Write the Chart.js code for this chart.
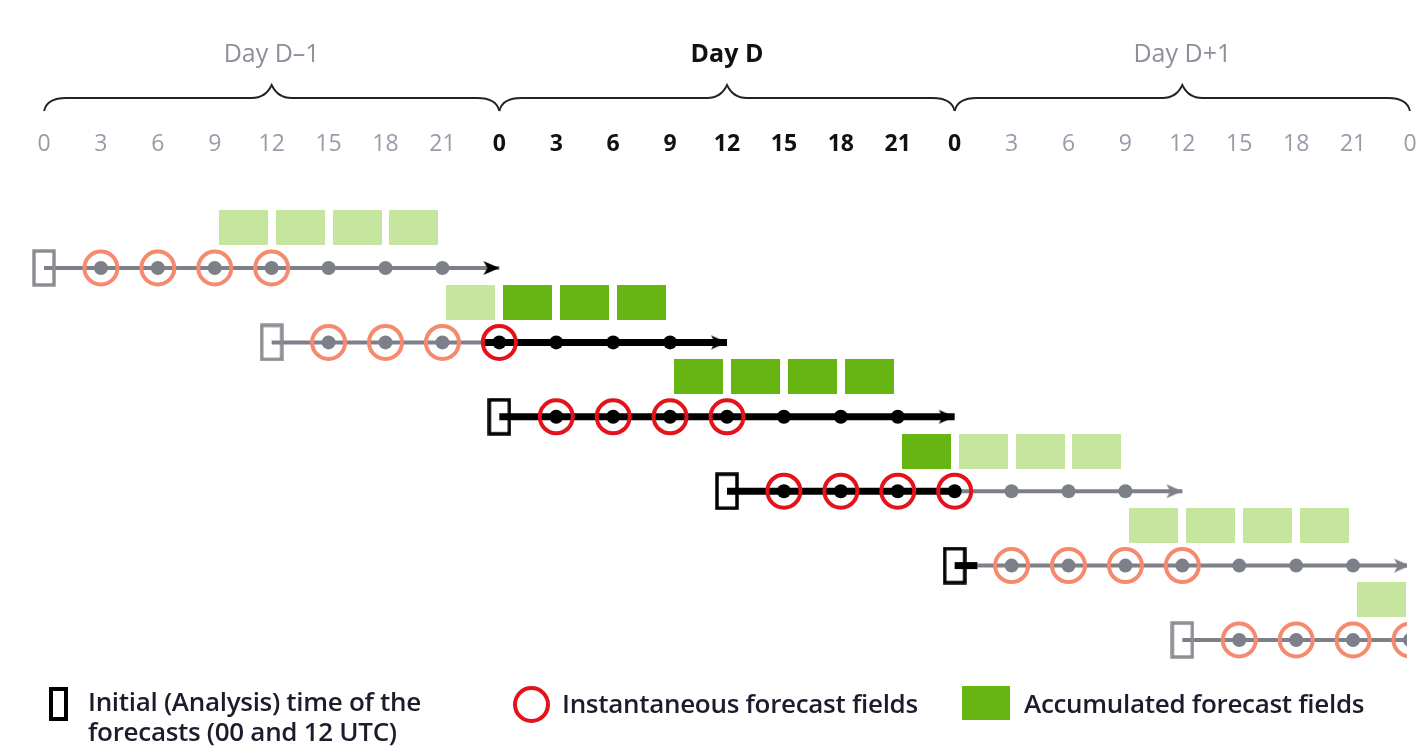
<!DOCTYPE html>
<html>
<head>
<meta charset="utf-8">
<script src="https://cdn.jsdelivr.net/npm/chart.js@4/dist/chart.umd.min.js"></script>
<style>
  html, body { margin: 0; padding: 0; background: #fff; }
  #wrap { position: relative; width: 1421px; height: 755px; overflow: hidden; }
  #chart { position: absolute; left: 0; top: 0; }
  .lg { position: absolute; font-family: "Open Sans", sans-serif; font-size: 26px; font-weight: 600;
        letter-spacing: -0.3px; color: #1c1c2c; line-height: 30px; white-space: nowrap; }
  .ico { position: absolute; box-sizing: border-box; }
</style>
</head>
<body>
<div id="wrap">
  <canvas id="chart" width="1421" height="755"></canvas>
  <div class="ico" style="left:49px;top:687px;width:19px;height:34px;border:4px solid #000;"></div>
  <div class="lg" style="left:88px;top:686px;">Initial (Analysis) time of the<br>forecasts (00 and 12 UTC)</div>
  <div class="ico" style="left:513px;top:686px;width:37px;height:37px;border:4px solid #e3121b;border-radius:50%;"></div>
  <div class="lg" style="left:562px;top:688px;">Instantaneous forecast fields</div>
  <div class="ico" style="left:962px;top:686px;width:48px;height:34px;background:#66b512;"></div>
  <div class="lg" style="left:1024px;top:688px;">Accumulated forecast fields</div>
</div>
<script>
// ------------------- DATOS -------------------

// Hora de inicio de cada pronóstico (horas desde Day D-1 00 UTC)
const forecastStarts = [0, 12, 24, 36, 48, 60];
// Pasos de salida (puntos) y campos instantáneos (círculos)
const outputSteps = [3, 6, 9, 12, 15, 18, 21];
const instantSteps = [3, 6, 9, 12];
// Campos acumulados: inicio de cada ventana de 3 h
const accumSteps = [9, 12, 15, 18];
const accumLength = 3;
const forecastLength = 24;

// Tramos de línea por fila: [desde, hasta, color]
const rowSegments = [
    [[0, 24, 'g']],
    [[12, 23.2, 'g'], [23.2, 36, 'k']],
    [[24, 48, 'k']],
    [[36, 48, 'k'], [48, 60, 'g']],
    [[48, 49.2, 'k'], [49.2, 72, 'g']],
    [[60, 84, 'g']]
];
// Color de la punta de flecha por fila
const arrowColors = ['k', 'k', 'k', 'g', 'g', 'g'];

// Días y etiquetas
const dayLabels = ['Day D\u20131', 'Day D', 'Day D+1'];
const dayStarts = [0, 24, 48];
const dayD = [24, 48];
const hourTicks = [0, 3, 6, 9, 12, 15, 18, 21];

// ------------------- ESTILOS -------------------
const GREY = '#7d8089';
const BLACK = '#000';
const SALMON = '#f58a6e';
const RED = '#e3121b';
const LIGHTGREEN = '#c6e6a0';
const DARKGREEN = '#66b512';
const FONT = '"Open Sans", sans-serif';

const inDayD = h => h >= dayD[0] && h <= dayD[1];
const tickInD = c => !!(c && c.tick && inDayD(c.tick.value));

function makeBox(color) {
    const c = document.createElement('canvas');
    c.width = 24; c.height = 38;
    const g = c.getContext('2d');
    g.strokeStyle = color; g.lineWidth = 3.5;
    g.strokeRect(2, 2, 20, 34);
    return c;
}

function makeArrow(color) {
    const c = document.createElement('canvas');
    c.width = 36; c.height = 18;
    const g = c.getContext('2d');
    g.fillStyle = color;
    g.beginPath();
    g.moveTo(18, 9); g.lineTo(2, 2); g.lineTo(6, 9); g.lineTo(2, 16);
    g.closePath(); g.fill();
    return c;
}

function makeGreen(color) {
    const c = document.createElement('canvas');
    c.width = 49; c.height = 35;
    const g = c.getContext('2d');
    g.fillStyle = color;
    g.fillRect(0, 0, 49, 35);
    return c;
}

const boxImg = { g: makeBox('#8d8e94'), k: makeBox(BLACK) };
const arrowImg = { g: makeArrow(GREY), k: makeArrow(BLACK) };
const greenImg = { light: makeGreen(LIGHTGREEN), dark: makeGreen(DARKGREEN) };

const CLIP = { left: 50, top: 50, bottom: 50, right: -3 };

// ------------------- DATASETS -------------------
const datasets = [];

forecastStarts.forEach((start, i) => {
    const row = i + 1;

    // Campos acumulados (rectángulos verdes)
    accumSteps.forEach(s => {
        const h0 = start + s;
        const dark = inDayD(h0) && inDayD(h0 + accumLength);
        datasets.push({
            data: [{ x: h0 + accumLength / 2, y: row - 0.54 }],
            pointStyle: dark ? greenImg.dark : greenImg.light,
            pointRadius: 10, order: 6, clip: CLIP
        });
    });

    // Líneas del pronóstico
    rowSegments[i].forEach(([a, b, c]) => {
        datasets.push({
            type: 'line', showLine: true,
            data: [{ x: a, y: row }, { x: b, y: row }],
            borderColor: c === 'k' ? BLACK : GREY,
            borderWidth: c === 'k' ? 7 : 4,
            borderCapStyle: 'butt',
            pointRadius: 0, order: 5, clip: CLIP
        });
    });

    // Puntos de salida
    const dots = outputSteps.map(s => start + s);
    datasets.push({
        data: dots.map(h => ({ x: h, y: row })),
        pointRadius: 7, pointBorderWidth: 0,
        pointBackgroundColor: dots.map(h => inDayD(h) ? BLACK : GREY),
        order: 4, clip: CLIP
    });

    // Campos instantáneos (círculos)
    const inst = instantSteps.map(s => start + s);
    datasets.push({
        data: inst.map(h => ({ x: h, y: row })),
        pointRadius: 16.5, pointBorderWidth: 4,
        pointBackgroundColor: 'rgba(0,0,0,0)',
        pointBorderColor: inst.map(h => inDayD(h) ? RED : SALMON),
        order: 3, clip: CLIP
    });

    // Hora inicial (análisis)
    datasets.push({
        data: [{ x: start, y: row }],
        pointStyle: inDayD(start) ? boxImg.k : boxImg.g,
        pointRadius: 10, order: 2, clip: CLIP
    });

    // Punta de flecha
    const end = start + forecastLength;
    datasets.push({
        data: [{ x: end, y: row }],
        pointStyle: arrowImg[arrowColors[i]],
        pointRadius: 8, order: 1, clip: CLIP
    });
});

// ------------------- PLUGIN: llaves y días -------------------
const dayBraces = {
    id: 'dayBraces',
    afterDraw(chart) {
        const { ctx, scales: { x } } = chart;
        const yLine = 98, yEnd = 111, yTip = 85;
        dayStarts.forEach((d, i) => {
            const xs = x.getPixelForValue(d);
            const xe = x.getPixelForValue(d + 24);
            const xm = x.getPixelForValue(d + 12);
            const isD = d === dayD[0];

            ctx.save();
            ctx.strokeStyle = '#222';
            ctx.lineWidth = 1.8;
            ctx.beginPath();
            ctx.moveTo(xs, yEnd);
            ctx.quadraticCurveTo(xs + 3, yLine, xs + 22, yLine);
            ctx.lineTo(xm - 20, yLine);
            ctx.quadraticCurveTo(xm - 6, yLine, xm, yTip);
            ctx.quadraticCurveTo(xm + 6, yLine, xm + 20, yLine);
            ctx.lineTo(xe - 22, yLine);
            ctx.quadraticCurveTo(xe - 3, yLine, xe, yEnd);
            ctx.stroke();

            ctx.fillStyle = isD ? '#111' : '#8e8f9c';
            ctx.font = (isD ? 'bold ' : '') + '25px ' + FONT;
            ctx.textAlign = 'center';
            ctx.textBaseline = 'middle';
            ctx.fillText(dayLabels[i], xm, 55);
            ctx.restore();
        });
    }
};

// ------------------- GRÁFICO -------------------
const ctx = document.getElementById('chart').getContext('2d');
new Chart(ctx, {
    type: 'scatter',
    data: { datasets },
    options: {
        responsive: false,
        animation: false,
        events: [],
        layout: { autoPadding: false, padding: { top: 125, left: 44, right: 11, bottom: 80 } },
        plugins: { legend: { display: false }, tooltip: { enabled: false } },
        scales: {
            x: {
                type: 'linear', position: 'top', min: 0, max: 72,
                grid: { display: false, drawTicks: false },
                border: { display: false },
                afterFit: s => { s.height = 35; s.paddingLeft = 0; s.paddingRight = 0; },
                afterBuildTicks: s => {
                    const t = [];
                    dayStarts.forEach(d => hourTicks.forEach(h => t.push({ value: d + h })));
                    t.push({ value: 72 });
                    s.ticks = t;
                },
                ticks: {
                    autoSkip: false, maxRotation: 0, padding: 2,
                    callback: v => v % 24,
                    color: c => tickInD(c) ? '#111' : '#9a9baa',
                    font: c => ({ family: FONT, size: 23, weight: tickInD(c) ? 'bold' : 'normal' })
                }
            },
            y: {
                type: 'linear', display: false, reverse: true,
                min: -0.4516, max: 6.4704
            }
        }
    },
    plugins: [dayBraces]
});
</script>
</body>
</html>
